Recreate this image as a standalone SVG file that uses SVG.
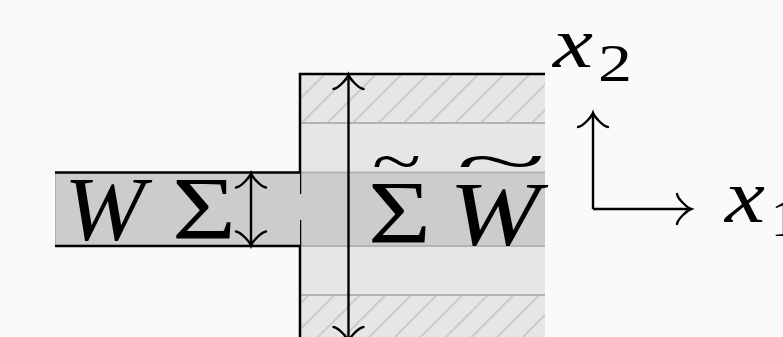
<svg xmlns="http://www.w3.org/2000/svg" width="783" height="337" viewBox="0 0 783 337">
<style>
.math{font-family:"Liberation Serif","Times New Roman",serif;fill:#000}
.it{font-style:italic}
.blk{stroke:#000;stroke-width:2.5;fill:none}
.gry{stroke:#b3b3b3;stroke-width:2;fill:none}
.arr{stroke:#000;stroke-width:2.4;fill:none;marker-start:url(#to);marker-end:url(#to)}
.arr1{stroke:#000;stroke-width:2.4;fill:none;marker-end:url(#to)}
</style>
<defs>
<pattern id="hatch" patternUnits="userSpaceOnUse" x="15" y="0" width="25.6" height="25.6">
<rect width="25.6" height="25.6" fill="#e6e6e6"/>
<path d="M-3,28.6 L28.6,-3 M-3,3 L3,-3 M22.6,28.6 L28.6,22.6" stroke="#c6c6c6" stroke-width="1.6"/>
</pattern>
<marker id="to" markerUnits="userSpaceOnUse" orient="auto-start-reverse" overflow="visible" refX="0" refY="0" markerWidth="20" markerHeight="32">
<path d="M-14,-15 C-13.1,-9.4 -2.8,-0.94 0,0 C-2.8,0.94 -13.1,9.4 -14,15" fill="none" stroke="#000" stroke-width="2.4" stroke-linecap="round"/>
</marker>
</defs>
<rect width="783" height="337" fill="#fafafa"/>
<g id="right-region">
<rect x="300" y="74" width="245" height="263" fill="#e6e6e6"/>
<rect x="300" y="74" width="245" height="49" fill="url(#hatch)"/>
<rect x="300" y="295" width="245" height="42" fill="url(#hatch)"/>
<rect x="300" y="172.5" width="245" height="73.5" fill="#cccccc"/>
<path class="gry" d="M300,123H545M300,172.5H545M300,246H545M300,295H545"/>
<path class="blk" d="M300,194V74H545M300,220V337"/>
<text class="math"><tspan x="368" y="242" font-size="89" textLength="63" lengthAdjust="spacingAndGlyphs">Σ</tspan><tspan x="372" y="183" font-size="64" textLength="49" lengthAdjust="spacingAndGlyphs">~</tspan></text>
<text class="math"><tspan class="it" x="449" y="245" font-size="92" textLength="91" lengthAdjust="spacingAndGlyphs">W</tspan><tspan x="456" y="183" font-size="64" textLength="90" lengthAdjust="spacingAndGlyphs">~</tspan></text>
</g>
<g id="left-strip">
<rect x="55" y="172.5" width="245" height="73.5" fill="#cccccc"/>
<path d="M55.5,173V246" stroke="#b0b0b0" stroke-width="1"/>
<path class="blk" d="M55,172.5H300M55,246H300"/>
<text class="math it" x="64" y="240" font-size="90" textLength="81" lengthAdjust="spacingAndGlyphs">W</text>
<text class="math" x="172" y="238" font-size="88" textLength="64" lengthAdjust="spacingAndGlyphs">Σ</text>
</g>
<g id="axes">
<text class="math it" x="553" y="67" font-size="72" textLength="40" lengthAdjust="spacingAndGlyphs">x</text>
<text class="math" x="598" y="81" font-size="53" textLength="34" lengthAdjust="spacingAndGlyphs">2</text>
<text class="math it" x="725" y="222" font-size="76" textLength="40" lengthAdjust="spacingAndGlyphs">x</text>
<text class="math" x="771" y="236" font-size="53">1</text>
</g>
<g id="connectors">
<path class="arr" d="M251,173.5V245.5"/>
<path class="arr" d="M348.5,75V341"/>
<path class="arr1" d="M593,209V113"/>
<path class="arr1" d="M593,209H691"/>
</g>
</svg>
